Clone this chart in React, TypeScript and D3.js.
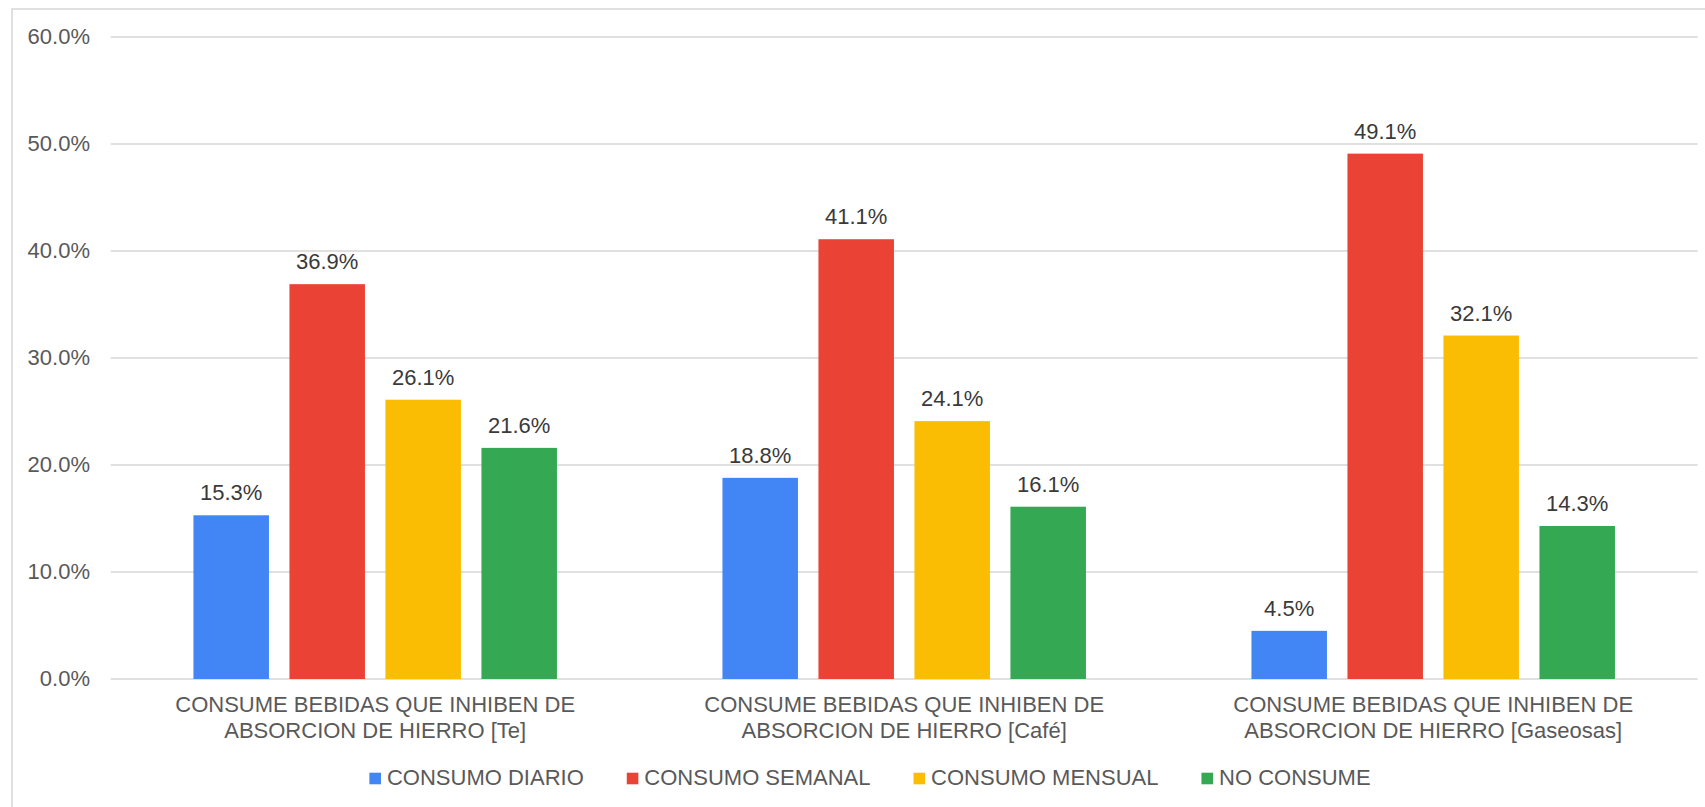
import React from "react";
import * as d3 from "d3";

// Beverage categories (two-line axis labels)
const categories = ["Te", "Café", "Gaseosas"];
const categoryLines = [
  ["CONSUME BEBIDAS QUE INHIBEN DE", "ABSORCION DE HIERRO [Te]"],
  ["CONSUME BEBIDAS QUE INHIBEN DE", "ABSORCION DE HIERRO [Café]"],
  ["CONSUME BEBIDAS QUE INHIBEN DE", "ABSORCION DE HIERRO [Gaseosas]"],
];

// Series (frequency of consumption)
const seriesNames = ["CONSUMO DIARIO", "CONSUMO SEMANAL", "CONSUMO MENSUAL", "NO CONSUME"];
const seriesColors = ["#4285F4", "#EA4335", "#FBBC04", "#34A853"];

// Percentages per series, one value per category
const diario = [15.3, 18.8, 4.5];
const semanal = [36.9, 41.1, 49.1];
const mensual = [26.1, 24.1, 32.1];
const noConsume = [21.6, 16.1, 14.3];
const seriesValues = [diario, semanal, mensual, noConsume];

const yTicks = [0, 10, 20, 30, 40, 50, 60];

const W = 1705;
const H = 807;
const FONT = "'Liberation Sans', Arial, sans-serif";

function measure(text: string, size: number): number {
  if (typeof document === "undefined") return text.length * size * 0.6;
  const c = document.createElement("canvas").getContext("2d");
  if (!c) return text.length * size * 0.6;
  c.font = `${size}px 'Liberation Sans', Arial, sans-serif`;
  return c.measureText(text).width;
}

export default function App() {
  const plotLeft = 110.7;
  const plotRight = 1697.7;
  const plotTop = 37;
  const plotBottom = 679;

  const x0 = d3.scaleBand<string>().domain(categories).range([plotLeft, plotRight]).padding(0);
  const x1 = d3
    .scaleBand<string>()
    .domain(seriesNames)
    .range([0, x0.bandwidth()])
    .paddingInner(0.2135)
    .paddingOuter(0.862);
  const y = d3.scaleLinear().domain([0, 60]).range([plotBottom, plotTop]);
  const fmt = (v: number) => `${v.toFixed(1)}%`;

  // Legend layout: square, gap, label, spacing between items
  const legendFont = 22;
  const sq = 11.6;
  const textGap = 6;
  const itemGap = 43;
  const widths = seriesNames.map((n) => measure(n, legendFont));
  const total =
    widths.reduce((a, b) => a + b, 0) + seriesNames.length * (sq + textGap) + (seriesNames.length - 1) * itemGap;
  const legendCenter = 870;
  let cursor = legendCenter - total / 2;
  const legendItems = seriesNames.map((n, i) => {
    const item = { name: n, color: seriesColors[i], x: cursor };
    cursor += sq + textGap + widths[i] + itemGap;
    return item;
  });
  const legendBaseline = 785;

  return (
    <svg
      width={W}
      height={H}
      style={{ position: "absolute", left: 0, top: 0, background: "#fff" }}
      fontFamily={FONT}
    >
      <rect x={0} y={0} width={W} height={H} fill="#fff" />
      {/* chart frame */}
      <rect x={12} y={9} width={W + 20} height={H + 20} fill="none" stroke="#d9d9d9" strokeWidth={1.6} />

      {/* gridlines and y tick labels */}
      {yTicks.map((t) => (
        <g key={t}>
          <line x1={plotLeft} x2={plotRight} y1={y(t)} y2={y(t)} stroke="#d6d6d6" strokeWidth={1.5} />
          <text x={90} y={y(t) + 7} textAnchor="end" fontSize={22} fill="#595959">
            {fmt(t)}
          </text>
        </g>
      ))}

      {/* bars and value labels */}
      {categories.map((c, ci) => (
        <g key={c} transform={`translate(${x0(c)},0)`}>
          {seriesNames.map((s, si) => {
            const v = seriesValues[si][ci];
            const bx = x1(s) as number;
            return (
              <g key={s}>
                <rect x={bx} y={y(v)} width={x1.bandwidth()} height={plotBottom - y(v)} fill={seriesColors[si]} />
                <text
                  x={bx + x1.bandwidth() / 2}
                  y={y(v) - 15}
                  textAnchor="middle"
                  fontSize={22}
                  fill="#3a3a3a"
                >
                  {fmt(v)}
                </text>
              </g>
            );
          })}
        </g>
      ))}

      {/* category labels */}
      {categories.map((c, ci) => (
        <text key={c} textAnchor="middle" fontSize={22} fill="#595959">
          {categoryLines[ci].map((line, li) => (
            <tspan key={li} x={(x0(c) as number) + x0.bandwidth() / 2} y={plotBottom + 33 + li * 25.5}>
              {line}
            </tspan>
          ))}
        </text>
      ))}

      {/* legend */}
      {legendItems.map((it) => (
        <g key={it.name}>
          <rect x={it.x} y={legendBaseline - 12.3} width={sq} height={sq} fill={it.color} />
          <text x={it.x + sq + textGap} y={legendBaseline} fontSize={legendFont} fill="#595959">
            {it.name}
          </text>
        </g>
      ))}
    </svg>
  );
}
